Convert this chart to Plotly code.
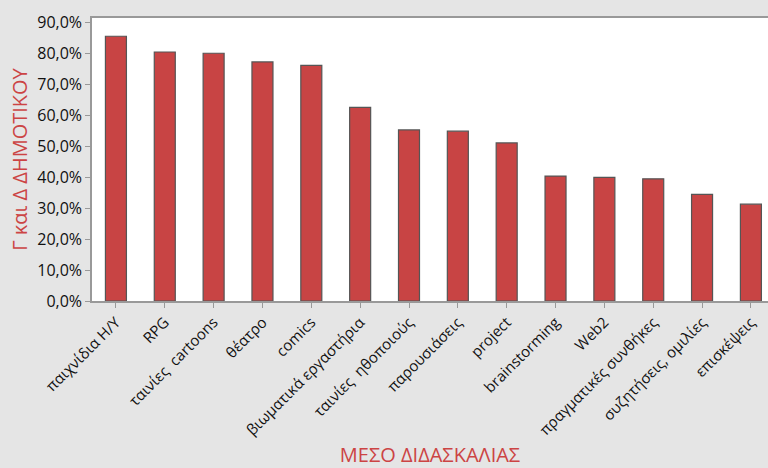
import plotly.graph_objects as go

categories = ["παιχνίδια Η/Υ", "RPG", "ταινίες  cartoons", "θέατρο", "comics",
              "βιωματικά εργαστήρια", "ταινίες  ηθοποιούς", "παρουσιάσεις", "project",
              "brainstorming", "Web2", "πραγματικές συνθήκες", "συζητήσεις, ομιλίες", "επισκέψεις"]
values = [0.856, 0.805, 0.801, 0.773, 0.762, 0.626, 0.553, 0.549, 0.511,
          0.404, 0.400, 0.395, 0.345, 0.313]

y_ticks = [0, 0.1, 0.2, 0.3, 0.4, 0.5, 0.6, 0.7, 0.8, 0.9]

fig = go.Figure(go.Bar(
    x=categories, y=values,
    marker=dict(color="#c84444", line=dict(color="#555555", width=1.2)),
    width=0.43,
))

font_family = "Open Sans, Noto Sans, DejaVu Sans, sans-serif"

fig.update_layout(
    width=768, height=468,
    margin=dict(l=92, r=0, t=18, b=167),
    paper_bgcolor="#e5e5e5",
    plot_bgcolor="#ffffff",
    separators=",.",
    showlegend=False,
    font=dict(family=font_family, color="#111111"),
    xaxis=dict(
        range=[-0.49, 13.35],
        tickangle=-45,
        tickfont=dict(size=15, color="#111111"),
        ticks="outside", ticklen=5, tickcolor="#999999",
        showline=True, linecolor="#999999", linewidth=1.5, mirror=True,
        title=dict(text="ΜΕΣΟ ΔΙΔΑΣΚΑΛΙΑΣ", font=dict(size=20, color="#cc4444"), standoff=11),
    ),
    yaxis=dict(
        range=[0, 0.915],
        tickvals=y_ticks,
        tickformat=".1%",
        tickfont=dict(size=16, color="#111111"),
        ticks="outside", ticklen=5, tickcolor="#999999",
        showline=True, linecolor="#999999", linewidth=1.5,
        showgrid=False, zeroline=False,
        title=dict(text="Γ και Δ ΔΗΜΟΤΙΚΟΥ", font=dict(size=20, color="#cc4444"), standoff=4),
    ),
)

fig.write_html("out.html",
               config={"displayModeBar": False},
               post_script="document.body.style.margin='0px';document.body.style.overflow='hidden';")
